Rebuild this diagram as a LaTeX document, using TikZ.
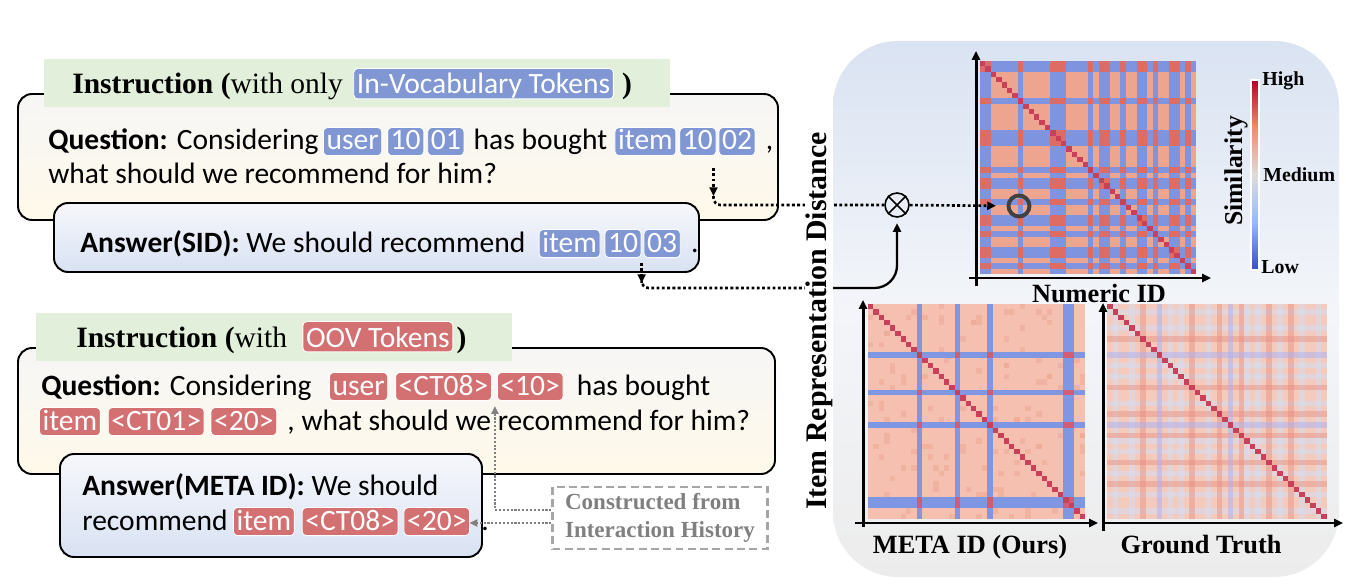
\documentclass[tikz,border=0pt]{standalone}
\usepackage{fontspec}
\setmainfont{Liberation Serif}
\newfontfamily\cali{Carlito}
\usetikzlibrary{positioning,arrows.meta,calc}

\definecolor{chipblue}{RGB}{128,151,212}
\definecolor{chipred}{RGB}{211,112,114}
\definecolor{headgreen}{RGB}{226,239,218}
\definecolor{qtop}{RGB}{246,246,246}
\definecolor{qbot}{RGB}{255,249,233}
\definecolor{atop}{RGB}{246,247,251}
\definecolor{abot}{RGB}{217,226,243}
\definecolor{paneltop}{RGB}{218,227,242}
\definecolor{panelmid}{RGB}{243,245,249}
\definecolor{panelbot}{RGB}{236,236,236}
\definecolor{hmblue}{RGB}{126,148,222}
\definecolor{hmsalmon}{RGB}{237,165,144}
\definecolor{hmred}{RGB}{221,108,100}
\definecolor{hmdiag}{RGB}{200,64,90}
\definecolor{metabg}{RGB}{245,192,176}
\definecolor{metastripe}{RGB}{127,151,226}
\definecolor{gtbg}{RGB}{243,202,188}
\definecolor{gtpale}{RGB}{214,222,242}
\definecolor{gtdark}{RGB}{232,140,128}
\definecolor{cbhigh}{RGB}{180,4,38}
\definecolor{cbwarm}{RGB}{240,140,112}
\definecolor{cbmid}{RGB}{221,220,220}
\definecolor{cbcool}{RGB}{150,184,255}
\definecolor{cblow}{RGB}{59,76,192}
\definecolor{histgray}{RGB}{128,128,128}
\definecolor{boxgray}{RGB}{166,166,166}

\tikzset{
  txt/.style={font=\cali\fontsize{16.8}{20}\selectfont, inner sep=0pt, anchor=base west},
  chip/.style={txt, text=white, draw=white, line width=.5pt, rounded corners=2.3pt,
    inner xsep=1.8pt, inner ysep=0pt, text height=12.8pt, text depth=3.2pt},
  bluechip/.style={chip, fill=chipblue},
  redchip/.style={chip, fill=chipred},
  bigchip/.style={text height=14.5pt, text depth=2.8pt},
  headtxt/.style={font=\fontsize{16.8}{20}\selectfont, inner sep=0pt, anchor=base west},
  qbox/.style={draw, line width=1.1pt, rounded corners=8pt, top color=qtop, bottom color=qbot},
  abox/.style={draw, line width=1.1pt, rounded corners=8pt, top color=atop, bottom color=abot},
  dotline/.style={line width=1.5pt, dash pattern=on 1.6pt off 1.4pt},
  dottip/.style={-{Triangle[length=5pt,width=4.5pt]}},
  plotaxis/.style={line width=1.7pt, -{Triangle[length=5pt,width=4.5pt]}},
  graydot/.style={histgray, line width=1.4pt, dash pattern=on 1.2pt off 1pt,
    -{Triangle[length=4.5pt,width=4pt]}},
  plotlabel/.style={font=\bfseries\fontsize{15}{18}\selectfont, anchor=base, inner sep=0pt},
  legendtxt/.style={font=\bfseries\fontsize{11.3}{13}\selectfont, anchor=base west, inner sep=0pt}
}

\begin{document}
\begin{tikzpicture}[x=0.02cm, y=-0.02cm]
    \useasboundingbox (0,0) rectangle (1346,588);

    % right panel
    \shade[rounded corners=1.3cm, top color=paneltop, bottom color=panelbot, middle color=panelmid]
        (833,41) rectangle (1339,577);

    % heatmap: numeric ID
    \begin{scope}[shift={(980,61)}, x=0.108cm, y=-0.1065cm]
        \fill[hmblue] (0,0) rectangle (40,40);
        \foreach \a/\m in {2/5,8/5,16/4,21/1,24/2,27/2,31/1,33/2,37/1,39/1}
            \foreach \b/\n in {2/5,8/5,16/4,21/1,24/2,27/2,31/1,33/2,37/1,39/1}
                \fill[hmsalmon] (\a,\b) rectangle ++(\m,\n);
        \foreach \a/\m in {0/2,7/1,13/3,20/1,22/2,26/1,29/2,32/1,35/2,38/1}
            \foreach \b/\n in {0/2,7/1,13/3,20/1,22/2,26/1,29/2,32/1,35/2,38/1}
                \fill[hmred] (\a,\b) rectangle ++(\m,\n);
        \foreach \i in {0,...,39}
            \fill[hmdiag] (\i,\i) rectangle ++(1,1);
    \end{scope}

    % heatmap: META ID
    \begin{scope}[shift={(868,304)}, x=0.1085cm, y=-0.1075cm]
        \fill[metabg] (0,0) rectangle (40,40);
        \pgfmathsetseed{7}
        \foreach \k in {1,...,160} {
            \pgfmathtruncatemacro\u{random(0,39)}
            \pgfmathtruncatemacro\v{random(0,39)}
            \fill[hmsalmon, opacity=.45] (\u,\v) rectangle ++(1,1);
        }
        \foreach \a/\m in {9/1,16/1,22/1,36/2} {
            \fill[metastripe] (\a,0) rectangle ++(\m,40);
            \fill[metastripe] (0,\a) rectangle ++(40,\m);
        }
        \foreach \a/\m in {9/1,16/1,22/1,36/2}
            \foreach \b/\n in {9/1,16/1,22/1,36/2}
                \fill[hmdiag!85!white] (\a,\b) rectangle ++(\m,\n);
        \foreach \i in {0,...,39}
            \fill[hmdiag] (\i,\i) rectangle ++(1,1);
    \end{scope}

    % heatmap: ground truth
    \begin{scope}[shift={(1107,304)}, x=0.11cm, y=-0.1075cm]
        \fill[gtbg] (0,0) rectangle (40,40);
        \foreach \a in {1,4,11,13,18,25,27,31,35,38} {
            \fill[gtpale, opacity=.55] (\a,0) rectangle ++(1,40);
            \fill[gtpale, opacity=.55] (0,\a) rectangle ++(40,1);
        }
        \foreach \a in {6,15,20,24,29,33} {
            \fill[gtdark, opacity=.45] (\a,0) rectangle ++(1,40);
            \fill[gtdark, opacity=.45] (0,\a) rectangle ++(40,1);
        }
        \foreach \a in {9,22} {
            \fill[gtpale!80!blue, opacity=.5] (\a,0) rectangle ++(1,40);
            \fill[gtpale!80!blue, opacity=.5] (0,\a) rectangle ++(40,1);
        }
        \foreach \i in {0,...,39}
            \fill[hmdiag] (\i,\i) rectangle ++(1,1);
    \end{scope}

    % axes
    \draw[plotaxis] (976,286) -- (976,51);
    \draw[plotaxis] (969,278) -- (1211,278);
    \draw[plotaxis] (863,527) -- (863,300);
    \draw[plotaxis] (855,523) -- (1098,523);
    \draw[plotaxis] (1103,531) -- (1103,303);
    \draw[plotaxis] (1103,523) -- (1343,523);

    \node[plotlabel] (numlab) at (1099,302) {Numeric ID};
    \node[plotlabel] (metalab) at (970,553) {META ID (Ours)};
    \node[plotlabel] (gtlab) at (1201,553) {Ground Truth};

    % colour bar
    \shade[top color=cbhigh, bottom color=cbmid, middle color=cbwarm] (1251,80) rectangle (1259,175);
    \shade[top color=cbmid, bottom color=cblow, middle color=cbcool] (1251,175) rectangle (1259,270);
    \draw[white, line width=.6pt] (1251,80) rectangle (1259,270);
    \node[legendtxt] (high) at (1262,86) {High};
    \node[legendtxt] (medium) at (1263,181) {Medium};
    \node[legendtxt] (low) at (1261,273) {Low};
    \node[font=\bfseries\fontsize{14.6}{17}\selectfont, rotate=90] (simlab) at (1236,171) {Similarity};

    % first instruction
    \draw[qbox] (18,94) rectangle (778,220);
    \fill[headgreen] (44,59) rectangle (670,107);
    \node[headtxt] (hone) at (72,94) {\textbf{Instruction (}with only};
    \node[bluechip, bigchip, base right=0.2cm of hone] (hvocab) {In-Vocabulary Tokens};
    \node[headtxt, base right=0.16cm of hvocab] (hcloseone) {\textbf{)}};

    \node[txt] (qone) at (48,150) {\textbf{Question:} Considering};
    \node[bluechip, base right=0.08cm of qone] (quser) {user};
    \node[bluechip, base right=0.1cm of quser] (qten) {10};
    \node[bluechip, base right=0.06cm of qten] (qzo) {01};
    \node[txt, base right=0.18cm of qzo] (qbought) {has bought};
    \node[bluechip, base right=0.14cm of qbought] (qitem) {item};
    \node[bluechip, base right=0.06cm of qitem] (qtenb) {10};
    \node[bluechip, base right=0.04cm of qtenb] (qtwo) {02};
    \node[txt, base right=0.2cm of qtwo] (qcomma) {,};
    \node[txt] (qline) at (48,183) {what should we recommend for him?};

    \draw[abox] (54,203) rectangle (699,272);
    \node[txt] (aone) at (80,252) {\textbf{Answer(SID):} We should recommend};
    \node[bluechip, base right=0.26cm of aone] (aitem) {item};
    \node[bluechip, base right=0.08cm of aitem] (aten) {10};
    \node[bluechip, base right=0.04cm of aten] (athree) {03};
    \node[txt, base right=0.2cm of athree] (adot) {.};

    % second instruction
    \draw[qbox] (18,348) rectangle (775,474);
    \fill[headgreen] (36,313) rectangle (512,361);
    \node[headtxt] (htwo) at (76,347) {\textbf{Instruction (}with};
    \node[redchip, bigchip, base right=0.3cm of htwo] (hoov) {OOV Tokens};
    \node[headtxt, base right=0.06cm of hoov] (hclosetwo) {\textbf{)}};

    \node[txt] (qqone) at (41,395) {\textbf{Question:} Considering};
    \node[redchip, base right=0.34cm of qqone] (qquser) {user};
    \node[redchip, base right=0.14cm of qquser] (qqct) {<CT08>};
    \node[redchip, base right=0.1cm of qqct] (qqten) {<10>};
    \node[txt, base right=0.26cm of qqten] (qqbought) {has bought};
    \node[redchip] (qqitem) at (39,430) {item};
    \node[redchip, base right=0.14cm of qqitem] (qqctb) {<CT01>};
    \node[redchip, base right=0.12cm of qqctb] (qqtwenty) {<20>};
    \node[txt, base right=0.2cm of qqtwenty] (qqrest) {, what should we recommend for him?};

    \draw[abox] (60,454) rectangle (482,557);
    \node[txt] (aaone) at (82,495) {\textbf{Answer(META ID):} We should};
    \node[txt] (aatwo) at (82,530) {recommend};
    \node[redchip, base right=0.1cm of aatwo] (aaitem) {item};
    \node[redchip, base right=0.14cm of aaitem] (aact) {<CT08>};
    \node[redchip, base right=0.1cm of aact] (aatwenty) {<20>};
    \node[txt, base right=0.22cm of aatwenty] (aadot) {.};

    \node[draw=boxgray, line width=1.3pt, dash pattern=on 4.5pt off 2.5pt, minimum width=4.3cm,
        minimum height=1.24cm, inner sep=0pt, align=left, text=histgray,
        font=\bfseries\fontsize{13.1}{15.9}\selectfont] (hist) at (660,518)
        {Constructed from\\Interaction History};

    % connectors
    \node[circle, draw, line width=.9pt, minimum size=0.48cm, inner sep=0pt] (mult) at (897,205) {};
    \draw[line width=.9pt] (mult.north west) -- (mult.south east) (mult.north east) -- (mult.south west);
    \node[circle, draw=black!75, line width=2.2pt, minimum size=0.42cm, inner sep=0pt] (spot) at (1019,206) {};

    \coordinate (qdrop) at ([xshift=-0.1cm, yshift=-0.24cm]qtwo.south west);
    \draw[dotline, dottip] (qdrop) -- ++(0,28) coordinate (qbend);
    \draw[dotline, rounded corners=4pt] (qbend) |- (mult);
    \draw[dotline, dottip, shorten >=6pt] (mult) -- (spot);

    \coordinate (adrop) at ([xshift=-0.04cm, yshift=-0.1cm]athree.south west);
    \draw[dotline, dottip] (adrop) -- ++(0,20) coordinate (abend);
    \coordinate (ajoin) at (832,288);
    \draw[dotline, rounded corners=4pt] (abend) |- (ajoin);
    \draw[line width=1.3pt, dottip, rounded corners=0.45cm, shorten >=3pt] (ajoin) -| (mult);

    \draw[graydot] ([yshift=-0.1cm]hist.west) -- ++(-82,0);
    \draw[graydot] ([yshift=0.16cm]hist.west) -| ([xshift=0.06cm, yshift=-0.1cm]qqct.south east);

    \node[fill=white, inner sep=0.5pt, rotate=90, font=\bfseries\fontsize{17}{20}\selectfont]
        (distlab) at (819,321) {Item Representation Distance};
\end{tikzpicture}
\end{document}
